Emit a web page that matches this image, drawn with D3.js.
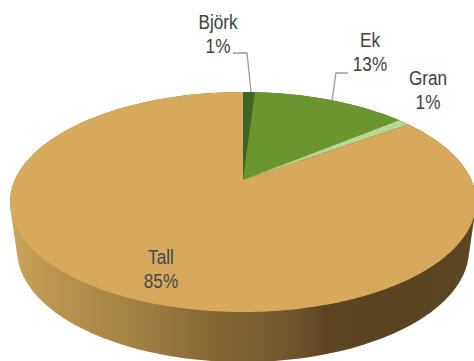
<!DOCTYPE html>
<html>
<head>
<meta charset="utf-8">
<script src="https://cdn.jsdelivr.net/npm/d3@7"></script>
<style>
html, body { margin: 0; background: #fff; }
svg { display: block; }
text { font-family: "Liberation Sans", Arial, sans-serif; font-size: 19.5px; text-anchor: middle; }
</style>
</head>
<body>
<svg id="chart" width="474" height="361"></svg>
<script>
// Tree species share of the forest, starting at twelve o'clock and running clockwise.
const species = ["Björk", "Ek", "Gran", "Tall"];
const shares = [1, 13, 1, 85];
const sliceColors = ["#3f6524", "#6b962f", "#b5d98f", "#d7a95c"];
const labelInk = ["#404040", "#404040", "#404040", "#43484f"];

// Rim shading of the disc, left to right.
const rimStops = [
  [0, "#cba45a"], [0.1, "#b9944f"], [0.22, "#a98847"], [0.33, "#98783f"], [0.45, "#846636"],
  [0.6, "#735630"], [0.68, "#5e4522"], [0.85, "#5a4321"], [1, "#5e4723"]
];

const svg = d3.select("#chart");

// Projection of the tilted disc: v runs from far (-1) to near (+1) edge.
const hub = { x: 243, y: 180 };
const tilt = { spread: 228.3, fall: 105.6, perspective: 0.2 };
const project = (u, v) => {
  const s = 1 - tilt.perspective * v;
  return [hub.x + tilt.spread * u / s, hub.y + tilt.fall * v / s];
};
const onRim = a => project(Math.sin(a), -Math.cos(a));

// Lower edge of the disc, used for the side wall.
const base = { x: 243, y: 250, rx: 226, ry: 112 };

const defs = svg.append("defs");
const grad = defs.append("linearGradient").attr("id", "rim")
  .attr("gradientUnits", "userSpaceOnUse")
  .attr("x1", 10).attr("x2", 474).attr("y1", 0).attr("y2", 0);
grad.selectAll("stop").data(rimStops).join("stop")
  .attr("offset", d => d[0]).attr("stop-color", d => d[1]);

const turn = d3.range(0, 361, 2).map(d => d * Math.PI / 180);
const topOutline = turn.map(onRim);
const baseOutline = turn.map(a => [base.x + base.rx * Math.sin(a), base.y - base.ry * Math.cos(a)]);

// The wall is the hull of both outlines; the slices cover its upper part.
svg.append("path")
  .attr("d", "M" + d3.polygonHull(topOutline.concat(baseOutline)).join("L") + "Z")
  .attr("fill", "url(#rim)");

const pie = d3.pie().sort(null).value(d => d)(shares);
const line = d3.line();
const wedge = d => {
  const steps = Math.max(2, Math.ceil((d.endAngle - d.startAngle) / 0.02));
  const rim = d3.range(steps + 1).map(i =>
    onRim(d.startAngle + (d.endAngle - d.startAngle) * i / steps));
  return line([[hub.x, hub.y], ...rim]) + "Z";
};

svg.append("g").selectAll("path").data(pie).join("path")
  .attr("d", wedge)
  .attr("fill", (d, i) => sliceColors[i]);

// Leader lines for the two labels set outside the disc.
const leaders = [
  [[233, 53], [247, 53], [251, 92]],
  [[348, 73], [336, 73], [332, 100]]
];
svg.append("g").selectAll("path").data(leaders).join("path")
  .attr("d", d3.line())
  .attr("fill", "none").attr("stroke", "#9a9a9a").attr("stroke-width", 1.3);

// Two-line labels: species name over percentage, set slightly condensed.
const labelAt = [[218, 29], [370, 47], [428, 85], [161, 264]];
const labels = svg.append("g").selectAll("text").data(species).join("text")
  .attr("transform", (d, i) => `translate(${labelAt[i][0]},${labelAt[i][1]}) scale(0.88,1)`)
  .attr("fill", (d, i) => labelInk[i]);
labels.append("tspan").text(d => d);
labels.append("tspan")
  .attr("x", 0)
  .attr("dy", 24)
  .text((d, i) => shares[i] + "%");
</script>
</body>
</html>
